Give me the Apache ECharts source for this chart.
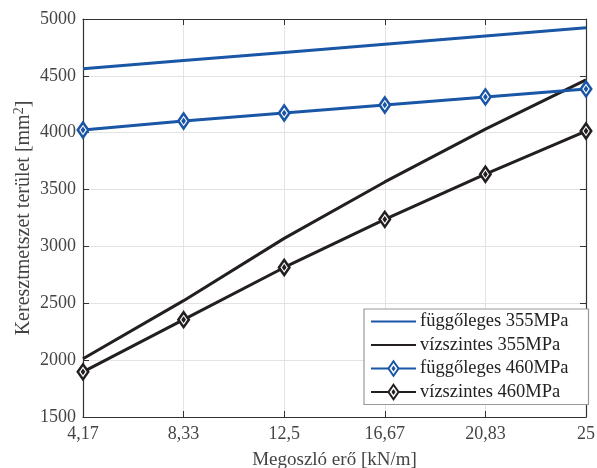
<!DOCTYPE html>
<html><head><meta charset="utf-8">
<script src="https://cdn.jsdelivr.net/npm/echarts@6/dist/echarts.min.js"></script>
<style>html,body{margin:0;padding:0;background:#fff}#c{width:597px;height:468px}</style>
</head><body><div id="c"></div>
<script>
var categories = ['4,17', '8,33', '12,5', '16,67', '20,83', '25'];
var fugg355 = [4562, 4634, 4706, 4778, 4850, 4922];
var viz355 = [2012, 2523, 3071, 3567, 4031, 4465];
var fugg460 = [4024, 4103, 4173, 4244, 4315, 4385];
var viz460 = [1897, 2356, 2815, 3238, 3635, 4015];
var yTicks = [1500, 5000, 500];
var names = ['függőleges 355MPa', 'vízszintes 355MPa', 'függőleges 460MPa', 'vízszintes 460MPa'];

var BLUE = '#1a56a6', BLACK = '#231f20';
var FONT = 'Liberation Serif';
// diamond with small centre dot; zero-length segments widen the bounding box to a square
var DIAMOND = 'path://M0,-10 L7,0 L0,10 L-7,0 Z M0,-1.6 L1.1,0 L0,1.6 L-1.1,0 Z M-10,0 L-10,0 M10,0 L10,0';
var chart = echarts.init(document.getElementById('c'));
function lineS(name, data, color, marker) {
  return {
    name: name, type: 'line', data: data, xAxisIndex: 0, yAxisIndex: 0,
    symbol: marker ? DIAMOND : 'none', symbolSize: 15, showSymbol: marker,
    lineStyle: { color: color, width: 3 },
    itemStyle: { color: '#fff', borderColor: color, borderWidth: 2.5 },
    emphasis: { disabled: true }, animation: false, z: marker ? 3 : 2
  };
}
var axisLine = { show: true, lineStyle: { color: '#333', width: 1.2 } };
var tick = { show: true, inside: true, length: 6, lineStyle: { color: '#333' } };
chart.setOption({
  animation: false,
  grid: { left: 83, right: 11, top: 19, bottom: 51, containLabel: false, outerBoundsMode: 'none' },
  legend: {
    orient: 'vertical', left: 364, top: 309,
    data: [
      { name: names[0], itemStyle: { opacity: 0 } },
      { name: names[1], itemStyle: { opacity: 0 } },
      { name: names[2] },
      { name: names[3] }
    ],
    itemWidth: 45, itemHeight: 18, itemGap: 4.5,
    padding: [3, 20, 3, 6],
    borderColor: '#999', borderWidth: 1.2, backgroundColor: '#fff',
    textStyle: { fontFamily: FONT, fontSize: 18.5, color: '#222', padding: [0, 0, 0, -1] }
  },
  xAxis: [{
    type: 'category', data: categories, boundaryGap: false,
    name: 'Megoszló erő [kN/m]', nameLocation: 'middle', nameGap: 34, nameMoveOverlap: false,
    nameTextStyle: { fontFamily: FONT, fontSize: 19, color: '#444' },
    axisLine: axisLine, axisTick: tick,
    axisLabel: { fontFamily: FONT, fontSize: 18, color: '#444', margin: 8 },
    splitLine: { show: true, lineStyle: { color: '#e3e3e3', width: 1 } }
  }, {
    type: 'category', data: categories, boundaryGap: false, position: 'top',
    axisLine: axisLine, axisTick: tick,
    axisLabel: { show: false }, splitLine: { show: false }
  }],
  yAxis: [{
    type: 'value', min: yTicks[0], max: yTicks[1], interval: yTicks[2],
    name: 'Keresztmetszet terület [mm{sup|2}]', nameLocation: 'middle', nameGap: 48, nameMoveOverlap: false,
    nameTextStyle: { fontFamily: FONT, fontSize: 20, color: '#444',
      rich: { sup: { fontFamily: FONT, fontSize: 14, color: '#444', verticalAlign: 'bottom', padding: [0, 0, 9, 0] } } },
    axisLine: axisLine, axisTick: tick,
    axisLabel: { fontFamily: FONT, fontSize: 18, color: '#444', margin: 7,
      formatter: function (v) { return String(v); } },
    splitLine: { show: true, lineStyle: { color: '#e3e3e3', width: 1 } }
  }, {
    type: 'value', min: yTicks[0], max: yTicks[1], interval: yTicks[2], position: 'right',
    axisLine: axisLine, axisTick: tick,
    axisLabel: { show: false }, splitLine: { show: false }
  }],
  series: [
    lineS(names[0], fugg355, BLUE, false),
    lineS(names[1], viz355, BLACK, false),
    lineS(names[2], fugg460, BLUE, true),
    lineS(names[3], viz460, BLACK, true)
  ]
});
</script></body></html>
